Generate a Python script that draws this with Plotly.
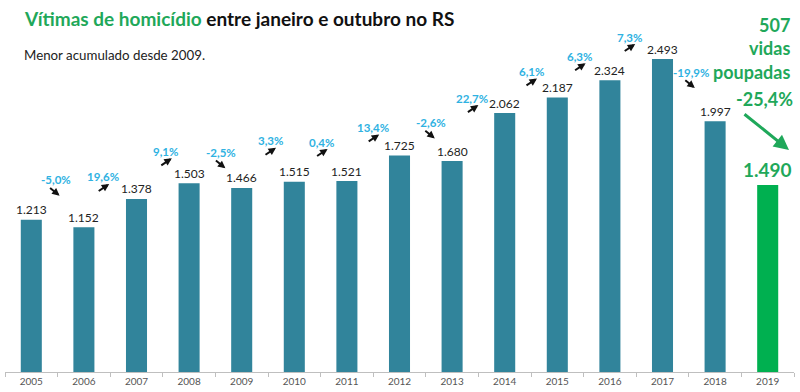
import plotly.graph_objects as go

years = ["2005", "2006", "2007", "2008", "2009", "2010", "2011", "2012",
         "2013", "2014", "2015", "2016", "2017", "2018", "2019"]
victims = [1213, 1152, 1378, 1503, 1466, 1515, 1521, 1725,
           1680, 2062, 2187, 2324, 2493, 1997, 1490]

title_green = "Vítimas de homicídio"
title_rest = "entre janeiro e outubro no RS"
subtitle = "Menor acumulado desde 2009."

# styling: pixel offsets of percentage labels relative to bar boundary / higher bar top
pct_dx = [-2, -7, 3, 6, 2, 1, 0, 5, -6, 0, -4, -7, 2]
pct_dy = [40, 22, 32, 31, 41, 39, 28, 33, 15, 26, 24, 22, -13]

FONT = "Lato"
TEAL = "#31849b"
GREEN_BAR = "#00b050"
GREEN_TXT = "#1fa85a"
BLUE = "#2fb2e2"


def fmt_int(v):
    return f"{v:,}".replace(",", ".")


def fmt_pct(p):
    return f"{p:.1f}".replace(".", ",") + "%"


colors = [TEAL] * (len(years) - 1) + [GREEN_BAR]

fig = go.Figure()
fig.add_trace(go.Bar(x=years, y=victims, marker_color=colors,
                     marker_line_width=0, hoverinfo="skip"))

ann = []
# value labels
for i, v in enumerate(victims[:-1]):
    ann.append(dict(x=i, y=v, xref="x", yref="y", text=fmt_int(v),
                    showarrow=False, yanchor="middle", yshift=10,
                    font=dict(family=FONT, size=12, color="#222222")))
# last value label
ann.append(dict(x=len(victims) - 1, y=victims[-1], xref="x", yref="y",
                text="<b>" + fmt_int(victims[-1]) + "</b>", showarrow=False,
                yanchor="middle", yshift=15,
                font=dict(family=FONT, size=19, color=GREEN_TXT)))

# percentage changes + arrows
for i in range(len(victims) - 2):
    a, b = victims[i], victims[i + 1]
    p = (b - a) / a * 100
    top = max(a, b)
    ann.append(dict(x=i + 0.5, y=top, xref="x", yref="y",
                    text="<b>" + fmt_pct(p) + "</b>", showarrow=False,
                    xanchor="center", yanchor="middle",
                    xshift=pct_dx[i], yshift=pct_dy[i],
                    font=dict(family=FONT, size=11.5, color=BLUE)))
    if p >= 0:
        hx, hy, ax, ay = 6, 7, -12, 8
    else:
        hx, hy, ax, ay = 4, 16, -11, -9
    ann.append(dict(x=i + 0.5, y=top, xref="x", yref="y", text="",
                    showarrow=True, arrowhead=2, arrowsize=0.75, arrowwidth=2,
                    arrowcolor="#111111", ax=ax, ay=ay,
                    xshift=pct_dx[i] + hx, yshift=pct_dy[i] - hy))

saved = victims[-2] - victims[-1]
change = (victims[-1] - victims[-2]) / victims[-2] * 100
ann.append(dict(x=0.9975, y=1 - 12 / 372, xref="paper", yref="paper",
                text=f"<b>{saved}<br>vidas<br>poupadas</b>", showarrow=False,
                xanchor="right", yanchor="top", align="right",
                font=dict(family=FONT, size=18, color=GREEN_TXT)))
ann.append(dict(x=(764 - 5) / 789, y=1 - 99 / 372, xref="paper", yref="paper",
                text="<b>" + fmt_pct(change) + "</b>", showarrow=False,
                xanchor="center", yanchor="middle",
                font=dict(family=FONT, size=18, color=GREEN_TXT)))
ann.append(dict(x=(789 - 5) / 789, y=1 - 150 / 372, xref="paper", yref="paper",
                text="", showarrow=True, arrowhead=2, arrowsize=1,
                arrowwidth=3, arrowcolor=GREEN_TXT, ax=-46, ay=-37))

# titles
ann.append(dict(x=(22 - 5) / 789, y=1 - 19 / 372, xref="paper", yref="paper",
                text=f"<b><span style='color:{GREEN_TXT}'>{title_green}</span> {title_rest}</b>",
                showarrow=False, xanchor="left", yanchor="middle",
                font=dict(family=FONT, size=19, color="#111111")))
ann.append(dict(x=(22 - 5) / 789, y=1 - 55 / 372, xref="paper", yref="paper",
                text=subtitle, showarrow=False, xanchor="left", yanchor="middle",
                font=dict(family=FONT, size=13.3, color="#222222")))

fig.update_layout(
    width=800, height=392,
    margin=dict(l=5, r=6, t=0, b=20),
    paper_bgcolor="white", plot_bgcolor="white",
    bargap=0.6, showlegend=False,
    annotations=ann,
    xaxis=dict(type="category", tickson="boundaries", ticks="outside",
               ticklen=4, tickcolor="#bfbfbf", showline=True,
               linecolor="#bfbfbf", linewidth=1, showgrid=False,
               tickfont=dict(family=FONT, size=10, color="#555555"),
               range=[-0.5, len(years) - 0.5]),
    yaxis=dict(visible=False, range=[0, 2963]),
)

fig.write_html("out.html",
               config={"displayModeBar": False},
               post_script="document.body.style.margin='0';"
                           "document.body.style.overflow='hidden';")
